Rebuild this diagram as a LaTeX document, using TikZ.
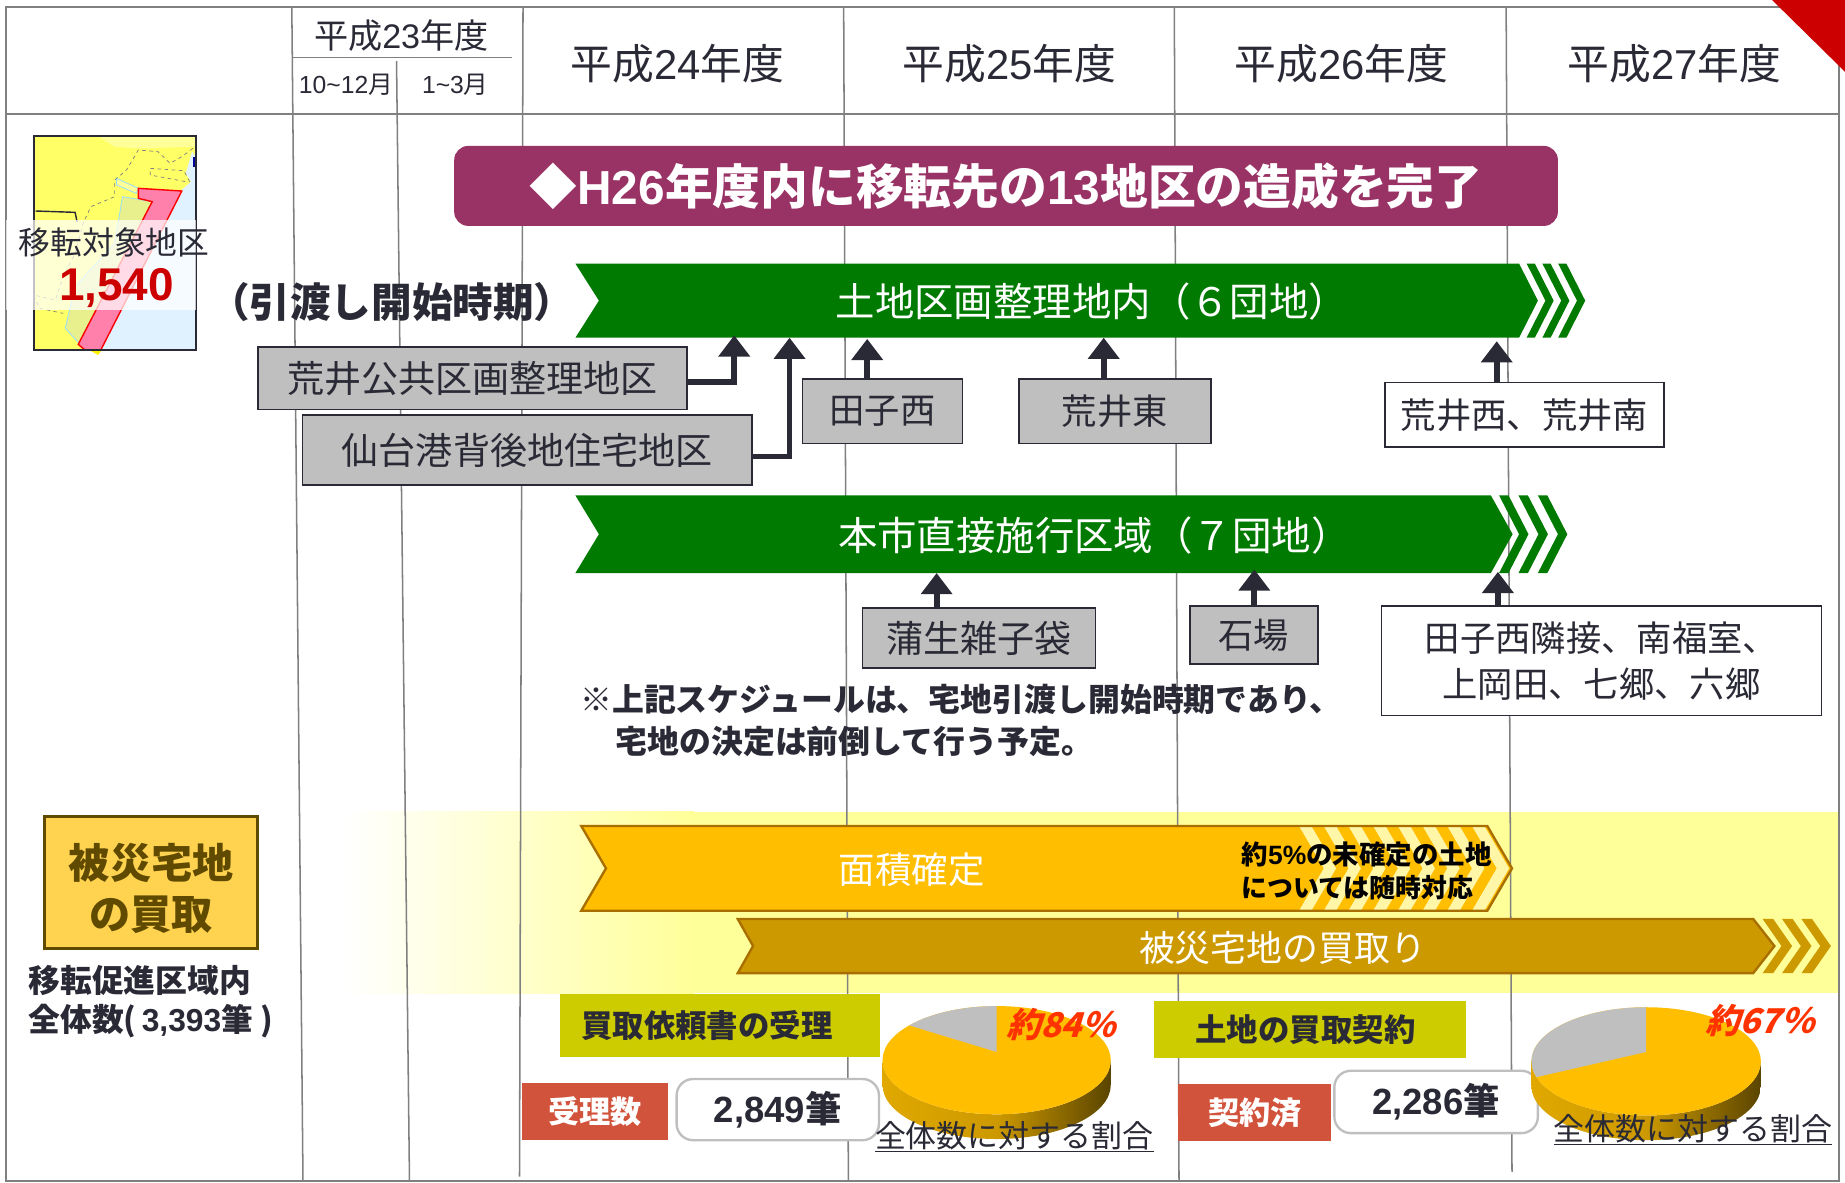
\documentclass[tikz,border=0pt]{standalone}
\usepackage{fontspec}
\setmainfont{Noto Sans CJK JP}
\newfontfamily\arial{Liberation Sans}
\usetikzlibrary{arrows.meta}
\newcommand{\fs}[1]{\fontsize{#1}{#1}\selectfont}
\newcommand{\A}[1]{{\arial #1}}
\definecolor{ink}{HTML}{2A2A36}
\definecolor{rule}{HTML}{808080}
\definecolor{darkgreen}{HTML}{007A00}
\definecolor{plum}{HTML}{993366}
\definecolor{boxgray}{HTML}{BFBFBF}
\definecolor{band}{HTML}{FFFF99}
\definecolor{landyellow}{HTML}{FFFF66}
\definecolor{seablue}{HTML}{E0F2FF}
\definecolor{strip}{HTML}{E8F08E}
\definecolor{pinkzone}{HTML}{FF80AA}
\definecolor{orangefill}{HTML}{FFBE00}
\definecolor{orangeedge}{HTML}{A86E00}
\definecolor{goldfill}{HTML}{CC9900}
\definecolor{paleyellow}{HTML}{FFF6A8}
\definecolor{olive}{HTML}{CCCC00}
\definecolor{brick}{HTML}{D2533B}
\definecolor{brown}{HTML}{604A00}
\definecolor{buyfill}{HTML}{FFD350}
\definecolor{percent}{HTML}{FF3300}
\definecolor{E0}{HTML}{E0A800}
\definecolor{D0}{HTML}{5A4400}
\newcommand{\chevrons}[8]{% x1, pitch, width, depth, top, mid, bottom, colour
  \foreach \i in {0,1,2} {
    \pgfmathsetmacro{\xs}{#1+\i*#2}
    \fill[#8] (\xs,#5) -- ++(#3,0) -- ++(#4,#6-#5) -- ++(-#4,#7-#6) -- ++(-#3,0) -- ++(#4,#6-#7) -- cycle;
  }
}
\newcommand{\piechart}[7]{% cx, cy, rx, ry, depth, end angle, apex y
  \shade[left color=E0,right color=D0,middle color=goldfill]
    (#1-#3,#2) -- ++(0,#5) arc[start angle=180,end angle=0,x radius=#3,y radius=#4] -- ++(0,-#5) arc[start angle=0,end angle=180,x radius=#3,y radius=#4] -- cycle;
  \fill[orangefill] (#1,#2) ellipse[x radius=#3,y radius=#4];
  \fill[boxgray] (#1,#7) -- (#1,#2-#4) arc[start angle=270,end angle=#6,x radius=#3,y radius=#4] -- cycle;
}
\tikzset{
  x=1pt,y=-1pt,
  vline/.style={draw=rule,line width=1.3pt},
  hline/.style={draw=rule,line width=1.6pt},
  graybox/.style={draw=ink,line width=1.5pt,fill=boxgray,text=ink,inner sep=0,font=\fs{31.5}},
  whitebox/.style={draw=ink,line width=1.5pt,fill=white,text=ink,inner sep=0,font=\fs{30}},
  upflow/.style={draw=ink,line width=5pt,-{Triangle[width=26pt,length=18pt]}},
  lbl/.style={inner sep=0,text=ink,align=center},
  whitetxt/.style={inner sep=0,text=white,align=center},
  roundwhite/.style={draw=boxgray,line width=2pt,fill=white,rounded corners=14pt,inner sep=0,text=ink},
  brickbox/.style={fill=brick,inner sep=0,text=white},
  olivebox/.style={fill=olive,inner sep=0,text=ink},
  pct/.style={inner sep=0,text=percent,xslant=.3,transform shape},
}
\begin{document}
\begin{tikzpicture}
\useasboundingbox (0,0) rectangle (1568,1004.6);
\fill[white] (0,0) rectangle (1568,1004.6);
% yellow band
\shade[left color=white,right color=band] (293,690) rectangle (590,844);
\fill[band] (589.5,690) rectangle (1562,844);
% grid
\draw[hline] (5,6) rectangle (1563,1004);
\draw[hline] (5,97) -- (1563,97);
\draw[vline] (248,6) -- (257.5,1004);
\draw[vline] (337,52) -- (348,1003);
\draw[vline] (444.5,6) -- (441.5,1000);
\draw[vline] (717,6) -- (721,1004);
\draw[vline] (998,6) -- (1002,1004);
\draw[vline] (1280,6) -- (1285,996);
\draw[vline] (249,49) -- (435,49);
% red corner
\fill[red!80!black] (1506,0) -- (1568,0) -- (1568,61) -- cycle;
% headers
\node[lbl,font=\fs{29}] (h23) at (341,30) {平成\A{23}年度};
\node[lbl,font=\fs{21}] (m1) at (294,72) {\A{10\textasciitilde 12}月};
\node[lbl,font=\fs{21}] (m2) at (387,72) {\A{1\textasciitilde 3}月};
\node[lbl,font=\fs{35.5}] (h24) at (576,54) {平成\A{24}年度};
\node[lbl,font=\fs{35.5}] (h25) at (858,54) {平成\A{25}年度};
\node[lbl,font=\fs{35.5}] (h26) at (1140,54) {平成\A{26}年度};
\node[lbl,font=\fs{35.5}] (h27) at (1423,54) {平成\A{27}年度};
% map
\begin{scope}[x=0.3359pt,y=-0.2833pt]
  \fill[landyellow] (85,408) rectangle (495,1050);
  \fill[band] (250,410) -- (493,410) -- (493,440) -- (350,445) -- (290,440) -- cycle;
  \fill[seablue] (486,455) -- (470,520) -- (483,545) -- (460,570) -- (255,1050) -- (495,1050) -- (495,470) -- cycle;
  \fill[blue!60!black] (488,470) rectangle (495,500);
  \fill[yellow] (225,1050) -- (258,1050) -- (248,1065) -- cycle;
  \draw[cyan!40!white,fill=strip,line width=.7pt] (310,590) -- (385,605) -- (200,1030) -- (165,985) -- (190,860) -- (290,730) -- cycle;
  \draw[cyan!40!white,fill=band,line width=.7pt] (295,535) -- (350,565) -- (345,580) -- (295,555) -- cycle;
  \draw[gray,dashed,line width=.6pt] (488,445) -- (460,470) -- (430,490) -- (400,455) -- (350,450) -- (320,510) -- (290,540) -- (290,590) -- (230,620) -- (210,670) -- (190,760) -- (160,830) -- (140,900) -- (85,885) -- (100,925) -- (160,940);
  \draw[gray,dashed,line width=.6pt] (480,545) -- (465,512) -- (380,505) -- (380,525) -- (470,545);
  \draw[ink,line width=1.2pt] (90,633) -- (190,637) -- (195,665);
  \fill[pinkzone,draw=red,line width=1.2pt] (350,565) -- (460,573) -- (255,1050) -- (215,1050) -- (198,1033) -- (385,605) -- (350,595) -- cycle;
  \draw[ink,line width=1.7pt] (85,408) rectangle (495,1050);
  \fill[white,opacity=.72] (14,660) rectangle (495,930);
\end{scope}
\node[lbl,font=\fs{27}] (mapa) at (97,206) {移転対象地区};
\node[inner sep=0,text=red!80!black,font=\arial\bfseries\fs{39}] (mapb) at (99,245) {1,540};
% purple banner
\node[fill=plum,rounded corners=12pt,minimum width=938pt,minimum height=68pt,inner sep=0,text=white,font=\bfseries\fs{40.6}] (goal) at (855,158) {◆\A{\bfseries H26}年度内に移転先の\A{\bfseries 13}地区の造成を完了};
% green arrows
\fill[darkgreen] (489,224) -- (1291,224) -- (1307,255.5) -- (1291,287) -- (489,287) -- (509,255.5) -- cycle;
\chevrons{1297.4}{13.4}{7}{16}{224}{255.5}{287}{darkgreen}
\fill[darkgreen] (489,421) -- (1267,421) -- (1285.5,454) -- (1267,487) -- (489,487) -- (509,454) -- cycle;
\chevrons{1274}{16.5}{8}{17}{421}{454}{487}{darkgreen}
\node[whitetxt,anchor=west,font=\fs{33.5}] (bar1) at (710,256) {土地区画整理地内（６団地）};
\node[whitetxt,anchor=west,font=\fs{33.5}] (bar2) at (712,455) {本市直接施行区域（７団地）};
\node[lbl,font=\bfseries\fs{34.5}] (handover) at (333,257) {（引渡し開始時期）};
% boxes
\node[graybox,minimum width=365pt,minimum height=53pt] (b1) at (401.5,321.5) {荒井公共区画整理地区};
\node[graybox,minimum width=382pt,minimum height=59pt] (b2) at (448,382.5) {仙台港背後地住宅地区};
\node[graybox,minimum width=136pt,minimum height=55pt,font=\fs{30}] (b3) at (750,349.5) {田子西};
\node[graybox,minimum width=163pt,minimum height=55pt,font=\fs{30}] (b4) at (947.5,349.5) {荒井東};
\node[whitebox,minimum width=237pt,minimum height=55pt] (b5) at (1295.5,352.5) {荒井西、荒井南};
\node[graybox,minimum width=198pt,minimum height=51pt] (b6) at (832,542.5) {蒲生雑子袋};
\node[graybox,minimum width=109pt,minimum height=49pt,font=\fs{30}] (b7) at (1065.5,539.5) {石場};
\node[whitebox,minimum width=374pt,minimum height=93pt,align=center,font=\fs{30}] (b8) at (1361,561.5) {田子西隣接、南福室、\\[9pt]上岡田、七郷、六郷};
% flow arrows
\coordinate (t1) at (624,285);
\coordinate (t2) at (671,287);
\coordinate (t3) at (737,288);
\coordinate (t4) at (938,287);
\coordinate (t5) at (1272,290);
\coordinate (t6) at (796,487);
\coordinate (t7) at (1066,484);
\coordinate (t8) at (1273,486);
\draw[upflow] (b1.east |- 0,325) -| (t1);
\draw[upflow] (b2.east |- 0,388) -| (t2);
\draw[upflow] (t3 |- b3.north) -- (t3);
\draw[upflow] (t4 |- b4.north) -- (t4);
\draw[upflow] (t5 |- b5.north) -- (t5);
\draw[upflow] (t6 |- b6.north) -- (t6);
\draw[upflow] (t7 |- b7.north) -- (t7);
\draw[upflow] (t8 |- b8.north) -- (t8);
% note
\node[lbl,anchor=west,font=\bfseries\fs{27.1}] (note1) at (493,594) {※上記スケジュールは、宅地引渡し開始時期であり、};
\node[lbl,anchor=west,font=\bfseries\fs{27.1}] (note2) at (523,630) {宅地の決定は前倒して行う予定。};
% purchase section
\node[fill=buyfill,draw=brown,line width=2.5pt,minimum width=181pt,minimum height=112pt,inner sep=0,text=brown,align=center,font=\bfseries\fs{35}] (buy) at (128.5,750) {\rule{0pt}{40pt}被災宅地\\[9pt]の買取};
\node[lbl,anchor=west,font=\bfseries\fs{27}] (tot1) at (24,833) {移転促進区域内};
\node[lbl,anchor=west,font=\bfseries\fs{27}] (tot2) at (24,868) {全体数(\A{\,\bfseries 3,393}筆 )};
% area arrow
\fill[orangefill] (494,702) -- (1264,702) -- (1285,738) -- (1264,774) -- (494,774) -- (515,738) -- cycle;
\begin{scope}
  \clip (494,702) -- (1264,702) -- (1285,738) -- (1264,774) -- (494,774) -- (515,738) -- cycle;
  \foreach \i in {0,...,7} {
    \pgfmathsetmacro{\xs}{1104+21*\i}
    \fill[paleyellow] (\xs,702) -- ++(10.5,0) -- ++(21,36) -- ++(-21,36) -- ++(-10.5,0) -- ++(21,-36) -- cycle;
  }
\end{scope}
\draw[orangeedge,line width=2pt] (494,702) -- (1264,702) -- (1285,738) -- (1264,774) -- (494,774) -- (515,738) -- cycle;
\node[whitetxt,font=\fs{31}] (area) at (775,739) {面積確定};
\node[inner sep=0,text=black,anchor=west,font=\bfseries\fs{22.5}] (undec1) at (1055,726) {約\A{\bfseries 5\%}の未確定の土地};
\node[inner sep=0,text=black,anchor=west,font=\bfseries\fs{22}] (undec2) at (1055,754) {については随時対応};
% purchase arrow
\fill[goldfill,draw=orangeedge,line width=2pt] (627,781) -- (1490,781) -- (1508,804) -- (1490,827) -- (627,827) -- (640,804) -- cycle;
\chevrons{1498}{16.5}{9}{16}{781}{804}{827}{goldfill}
\node[whitetxt,font=\fs{30.5}] (buyarrow) at (1090,806) {被災宅地の買取り};
% receipts
\node[olivebox,minimum width=272pt,minimum height=53pt,font=\bfseries\fs{26.7}] (rq) at (612,871.5) {\makebox[236pt]{買取依頼書の受理\hfill}};
\node[olivebox,minimum width=265pt,minimum height=49pt,font=\bfseries\fs{26.7}] (ct) at (1113.5,875) {\hspace{-8pt}土地の買取契約};
\node[brickbox,minimum width=124pt,minimum height=48.5pt,font=\bfseries\fs{26.5}] (r1) at (506,945) {受理数};
\node[roundwhite,minimum width=172pt,minimum height=52pt,font=\arial\bfseries\fs{31}] (r2) at (661,943) {\raisebox{-2pt}{2,849{\rmfamily\bfseries 筆}}};
\node[brickbox,minimum width=130pt,minimum height=49pt,font=\bfseries\fs{26.5}] (c1) at (1066.5,945.5) {契約済};
\node[roundwhite,minimum width=173pt,minimum height=53pt,font=\arial\bfseries\fs{31}] (c2) at (1220.5,936.5) {\raisebox{-1pt}{2,286{\rmfamily\bfseries 筆}}};
% pies
\piechart{847}{901}{97}{46}{21}{220}{894}
\piechart{1399}{902}{97.5}{46}{21}{163}{894}
\node[pct,font=\bfseries\fs{29}] (p1) at (905,871) {約84％};
\node[pct,font=\bfseries\fs{29}] (p2) at (1499,867) {約67％};
\node[lbl,font=\fs{26.3}] (s1) at (862,966) {\underline{全体数に対する割合}};
\node[lbl,font=\fs{26.3}] (s2) at (1439,960) {\underline{全体数に対する割合}};
\end{tikzpicture}
\end{document}
